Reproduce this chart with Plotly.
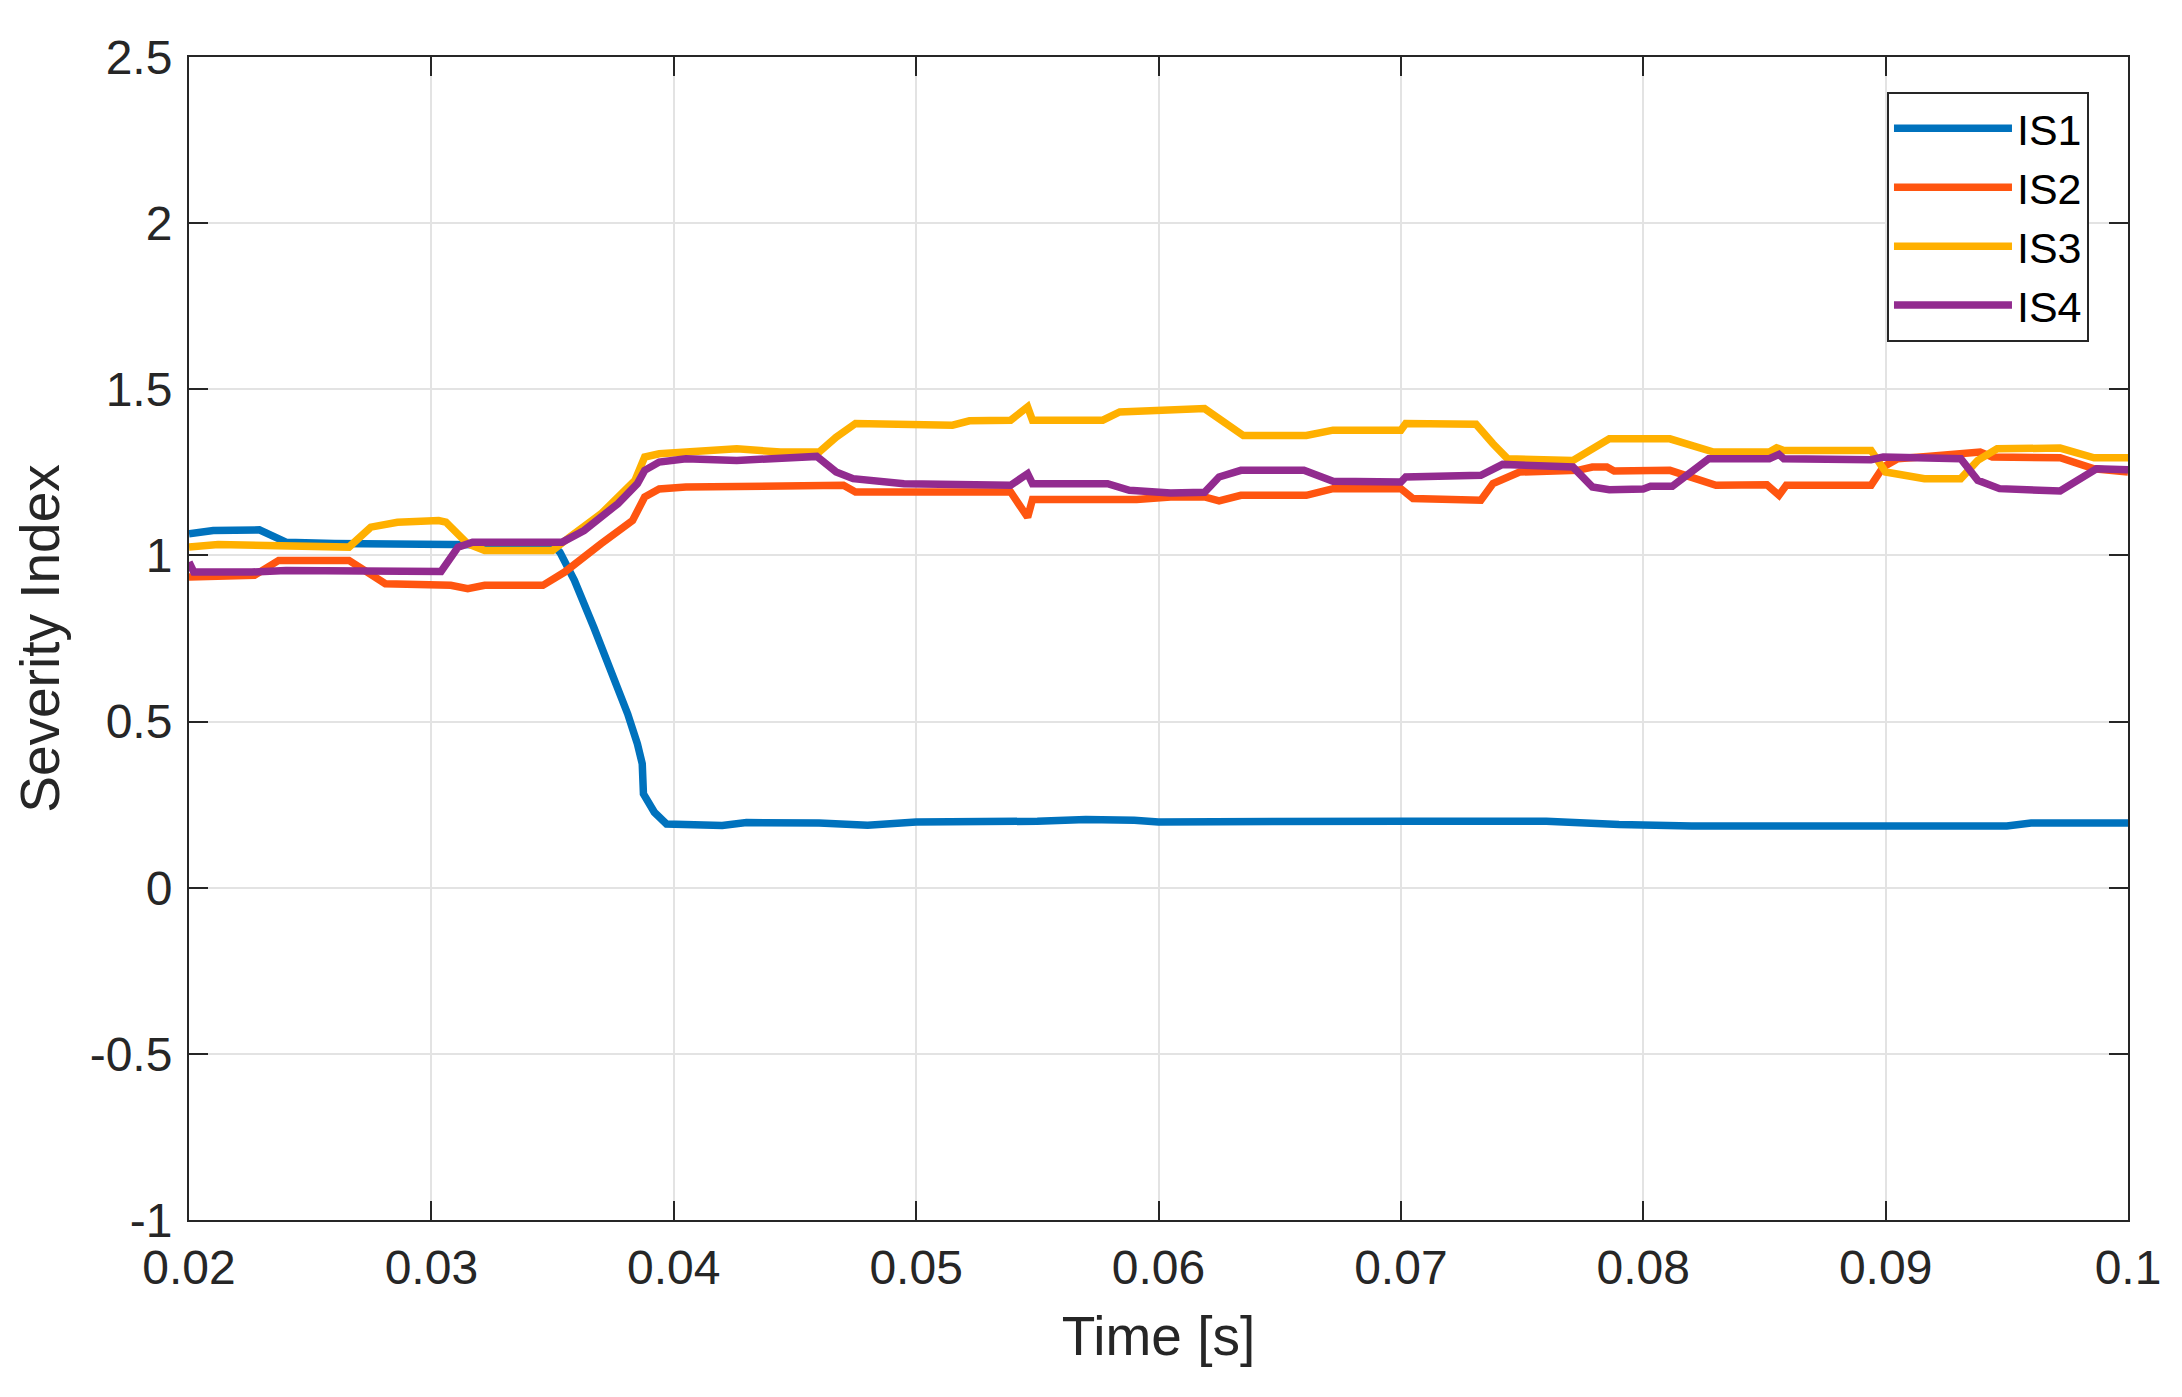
"""Severity index of four signals versus time."""

import plotly.graph_objects as go

# time axis (s) and values
is1_t = [0.0200, 0.0210, 0.0229, 0.0240, 0.0260, 0.0300, 0.0330, 0.0350, 0.0353, 0.0359,
         0.0367, 0.0374, 0.0381, 0.0385, 0.0387, 0.03875, 0.0392, 0.0397, 0.0420, 0.0430,
         0.0460, 0.0480, 0.0500, 0.0550, 0.0570, 0.0590, 0.0600, 0.0700, 0.0760, 0.0790,
         0.0820, 0.0900, 0.0950, 0.0960, 0.1000]
is1_v = [1.065, 1.075, 1.077, 1.040, 1.036, 1.035, 1.030, 1.030, 1.010, 0.925,
         0.784, 0.654, 0.523, 0.433, 0.373, 0.282, 0.227, 0.192, 0.187, 0.196,
         0.195, 0.188, 0.198, 0.200, 0.205, 0.203, 0.198, 0.200, 0.200, 0.190,
         0.186, 0.186, 0.186, 0.195, 0.195]

is2_t = [0.0200, 0.0227, 0.0237, 0.0266, 0.0281, 0.0308, 0.0315, 0.0322, 0.0346, 0.0355,
         0.0370, 0.0383, 0.0388, 0.0394, 0.0405, 0.0450, 0.0470, 0.0475, 0.0539, 0.0546,
         0.0548, 0.0591, 0.0605, 0.0619, 0.0625, 0.0634, 0.0661, 0.0672, 0.0700, 0.0705,
         0.0733, 0.0738, 0.0749, 0.0773, 0.0779, 0.0785, 0.0788, 0.0811, 0.0822, 0.0830,
         0.0851, 0.0856, 0.0859, 0.0894, 0.0899, 0.0905, 0.0917, 0.0931, 0.0939, 0.0944,
         0.0972, 0.0986, 0.1000]
is2_v = [0.935, 0.940, 0.985, 0.985, 0.915, 0.910, 0.900, 0.910, 0.910, 0.950,
         1.035, 1.105, 1.176, 1.200, 1.206, 1.208, 1.211, 1.191, 1.191, 1.115,
         1.168, 1.168, 1.176, 1.176, 1.164, 1.181, 1.181, 1.201, 1.201, 1.171,
         1.166, 1.216, 1.251, 1.256, 1.266, 1.266, 1.254, 1.256, 1.231, 1.211,
         1.213, 1.181, 1.211, 1.211, 1.266, 1.291, 1.298, 1.304, 1.311, 1.296,
         1.294, 1.261, 1.251]

is3_t = [0.0200, 0.0212, 0.0266, 0.0275, 0.0286, 0.0303, 0.0306, 0.0315, 0.0322, 0.0350,
         0.0357, 0.0370, 0.0384, 0.0388, 0.0394, 0.0405, 0.0426, 0.0444, 0.0460, 0.0467,
         0.0475, 0.0515, 0.0522, 0.0539, 0.0546, 0.0548, 0.0577, 0.0584, 0.0605, 0.0619,
         0.0635, 0.0661, 0.0672, 0.0700, 0.0702, 0.0731, 0.0738, 0.0744, 0.0771, 0.0786,
         0.0811, 0.0829, 0.0852, 0.0855, 0.0858, 0.0880, 0.0891, 0.0894, 0.0900, 0.0916,
         0.0931, 0.0938, 0.0946, 0.0972, 0.0986, 0.1000]
is3_v = [1.025, 1.033, 1.025, 1.085, 1.100, 1.105, 1.100, 1.035, 1.015, 1.015,
         1.055, 1.125, 1.226, 1.296, 1.306, 1.311, 1.321, 1.311, 1.311, 1.356,
         1.397, 1.392, 1.405, 1.407, 1.447, 1.407, 1.407, 1.432, 1.435, 1.442,
         1.361, 1.361, 1.377, 1.377, 1.397, 1.395, 1.336, 1.291, 1.286, 1.351,
         1.351, 1.311, 1.311, 1.324, 1.316, 1.316, 1.321, 1.316, 1.251, 1.231,
         1.231, 1.286, 1.321, 1.323, 1.294, 1.294]

is4_t = [0.0200, 0.0202, 0.0226, 0.0240, 0.0304, 0.0311, 0.0317, 0.0354, 0.0363, 0.0377,
         0.0385, 0.0388, 0.0394, 0.0405, 0.0426, 0.0459, 0.0467, 0.0474, 0.0495, 0.0539,
         0.0546, 0.0548, 0.0579, 0.0588, 0.0605, 0.0619, 0.0625, 0.0634, 0.0660, 0.0672,
         0.0700, 0.0702, 0.0733, 0.0742, 0.0771, 0.0779, 0.0786, 0.0800, 0.0803, 0.0812,
         0.0827, 0.0852, 0.0856, 0.0858, 0.0894, 0.0899, 0.0931, 0.0938, 0.0947, 0.0972,
         0.0987, 0.1000]
is4_v = [0.980, 0.950, 0.950, 0.955, 0.952, 1.025, 1.040, 1.040, 1.075, 1.156,
         1.216, 1.256, 1.281, 1.291, 1.286, 1.298, 1.251, 1.231, 1.216, 1.211,
         1.246, 1.216, 1.216, 1.196, 1.188, 1.190, 1.236, 1.256, 1.256, 1.223,
         1.221, 1.236, 1.241, 1.274, 1.266, 1.206, 1.198, 1.200, 1.208, 1.208,
         1.291, 1.291, 1.304, 1.291, 1.288, 1.296, 1.291, 1.226, 1.201, 1.194,
         1.261, 1.258]

x_ticks = [0.02, 0.03, 0.04, 0.05, 0.06, 0.07, 0.08, 0.09, 0.1]
x_labels = ["0.02", "0.03", "0.04", "0.05", "0.06", "0.07", "0.08", "0.09", "0.1"]
y_ticks = [-1, -0.5, 0, 0.5, 1, 1.5, 2, 2.5]
y_labels = ["-1", "-0.5", "0", "0.5", "1", "1.5", "2", "2.5"]

series = [
    ("IS1", is1_t, is1_v, "#0072BD"),
    ("IS2", is2_t, is2_v, "#FF5510"),
    ("IS3", is3_t, is3_v, "#FFB000"),
    ("IS4", is4_t, is4_v, "#922B8F"),
]

FONT = "Arial, Liberation Sans, sans-serif"
INK = "#262626"

fig = go.Figure()
for name, t, v, color in series:
    fig.add_trace(go.Scatter(x=t, y=v, name=name, mode="lines",
                             line=dict(color=color, width=7.5)))

axis_common = dict(
    showline=True, linecolor=INK, linewidth=2, mirror="ticks",
    ticks="inside", ticklen=19, tickwidth=2, tickcolor=INK,
    showgrid=True, gridcolor="#E3E3E3", gridwidth=2,
    zeroline=False,
    tickfont=dict(family=FONT, size=48, color=INK),
)

# the page body keeps an 8px margin, so the figure is a little smaller than the window
fig.update_layout(
    width=2166, height=1381,
    paper_bgcolor="white", plot_bgcolor="white",
    margin=dict(l=181, r=46, t=49, b=169),
    font=dict(family=FONT, color=INK),
    xaxis=dict(range=[0.02, 0.1], tickvals=x_ticks, ticktext=x_labels,
               ticklabelstandoff=4,
               title=dict(text="Time [s]", font=dict(size=55, family=FONT, color=INK),
                          standoff=24),
               **axis_common),
    yaxis=dict(range=[-1, 2.5], tickvals=y_ticks, ticktext=y_labels,
               ticklabelstandoff=5,
               title=dict(text="Severity Index", font=dict(size=55, family=FONT, color=INK),
                          standoff=12),
               **axis_common),
    legend=dict(x=0.8757, y=0.970, xanchor="left", yanchor="top",
                bgcolor="white", bordercolor=INK, borderwidth=2,
                font=dict(family=FONT, size=43, color="black"),
                itemwidth=118, tracegroupgap=0),
    showlegend=True,
)

fig.write_html("out.html")
